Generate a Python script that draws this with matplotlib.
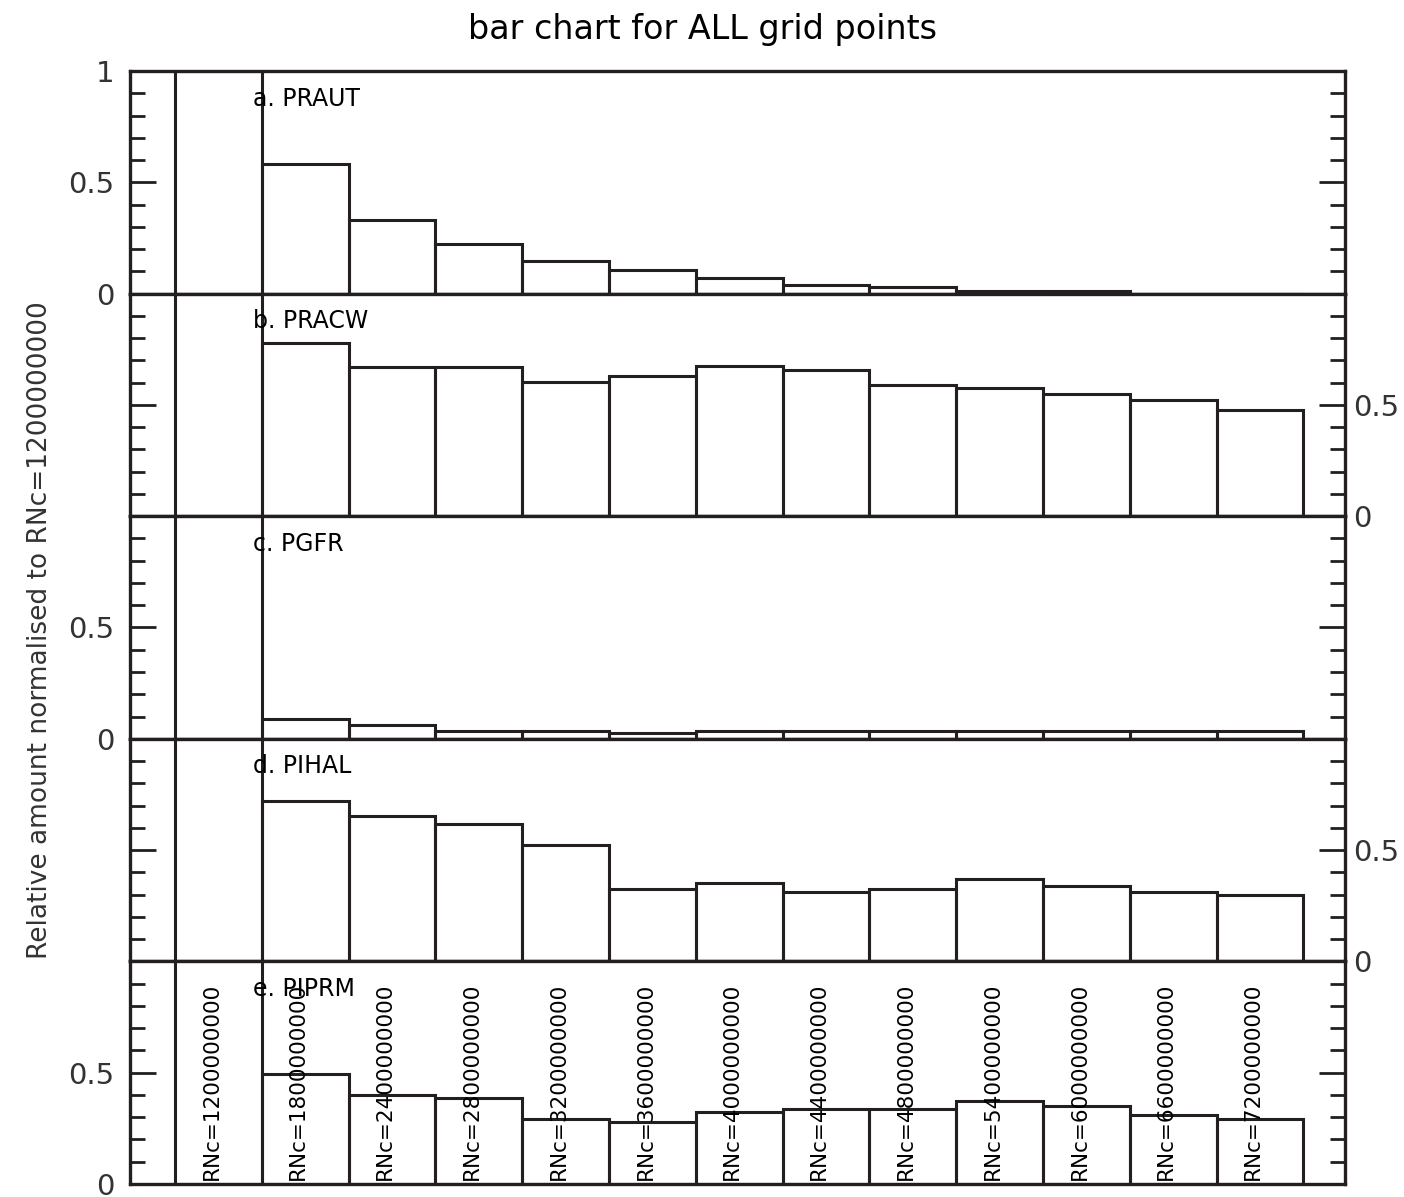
from matplotlib import pyplot as plt
from matplotlib.ticker import MultipleLocator

# relative amount normalised to RNc=1200000000 (first bar = 1)
rnc = ['1200000000', '1800000000', '2400000000', '2800000000', '3200000000',
       '3600000000', '4000000000', '4400000000', '4800000000', '5400000000',
       '6000000000', '6600000000', '7200000000']
praut = [1.0, 0.58, 0.329, 0.224, 0.145, 0.104, 0.069, 0.040, 0.028, 0.010, 0.010, 0.0, 0.0]
pracw = [1.0, 0.776, 0.671, 0.671, 0.604, 0.631, 0.673, 0.658, 0.591, 0.577, 0.550, 0.523, 0.475]
pgfr = [1.0, 0.090, 0.063, 0.034, 0.034, 0.024, 0.034, 0.034, 0.034, 0.034, 0.034, 0.034, 0.034]
pihal = [1.0, 0.720, 0.655, 0.616, 0.525, 0.326, 0.353, 0.311, 0.326, 0.368, 0.339, 0.313, 0.299]
piprm = [1.0, 0.493, 0.398, 0.385, 0.293, 0.280, 0.323, 0.335, 0.335, 0.371, 0.350, 0.309, 0.294]

panels = [('a. PRAUT', praut), ('b. PRACW', pracw), ('c. PGFR', pgfr),
          ('d. PIHAL', pihal), ('e. PIPRM', piprm)]

ink = '#231f20'
plt.rcParams['font.family'] = 'DejaVu Sans'

fig = plt.figure(figsize=(14.04, 11.97), dpi=100)

left = 130 / 1404
width = (1345 - 130) / 1404
top_px = 71
h_px = (1184 - 71) / 5

x = list(range(len(rnc)))
axes = []
for i, (name, vals) in enumerate(panels):
    y0 = 1 - (top_px + (i + 1) * h_px) / 1197
    ax = fig.add_axes([left, y0, width, h_px / 1197])
    ax.bar(x, vals, width=1.0, fill=False, edgecolor=ink, linewidth=2.2)
    ax.set_xlim(-1.02, 12.98)
    ax.set_ylim(0, 1)
    ax.set_xticks([])
    ax.yaxis.set_major_locator(MultipleLocator(0.5))
    ax.yaxis.set_minor_locator(MultipleLocator(0.1))
    ax.tick_params(axis='y', which='both', direction='in', left=True, right=True,
                   width=2, color=ink, labelsize=21, labelcolor='#333333')
    ax.tick_params(axis='y', which='major', length=19, pad=11)
    ax.tick_params(axis='y', which='minor', length=11)
    for sp in ax.spines.values():
        sp.set_linewidth(2.4)
        sp.set_color(ink)
    ax.set_yticks([0, 0.5, 1])
    if i == 0:
        ax.set_yticklabels(['0', '0.5', '1'])
    elif i % 2 == 1:
        ax.set_yticklabels(['0', '0.5', ''])
        ax.tick_params(axis='y', which='major', labelleft=False, labelright=True, pad=6)
    else:
        ax.set_yticklabels(['0', '0.5', ''])
    ax.text(0.4, 0.93, name, transform=ax.get_xaxis_transform(),
            ha='left', va='top', fontsize=17, color='black')
    axes.append(ax)

# keep the bottom "0" inside the canvas
axes[-1].get_yticklabels()[0].set_verticalalignment('center_baseline')

# rotated RNc labels in the bottom panel
for xi, lab in zip(x, rnc):
    axes[-1].text(xi - 0.08, 0.02, 'RNc=' + lab, rotation=90,
                  transform=axes[-1].get_xaxis_transform(),
                  ha='center', va='bottom', fontsize=15.5, color='black')

fig.text(0.5, 1 - 30 / 1197, 'bar chart for ALL grid points',
         ha='center', va='center', fontsize=24, color='black')
fig.text(40 / 1404, 1 - 630 / 1197, 'Relative amount normalised to RNc=1200000000',
         rotation=90, ha='center', va='center', fontsize=19, color='#333333')

fig.savefig('out.png', dpi=100, facecolor='white')
